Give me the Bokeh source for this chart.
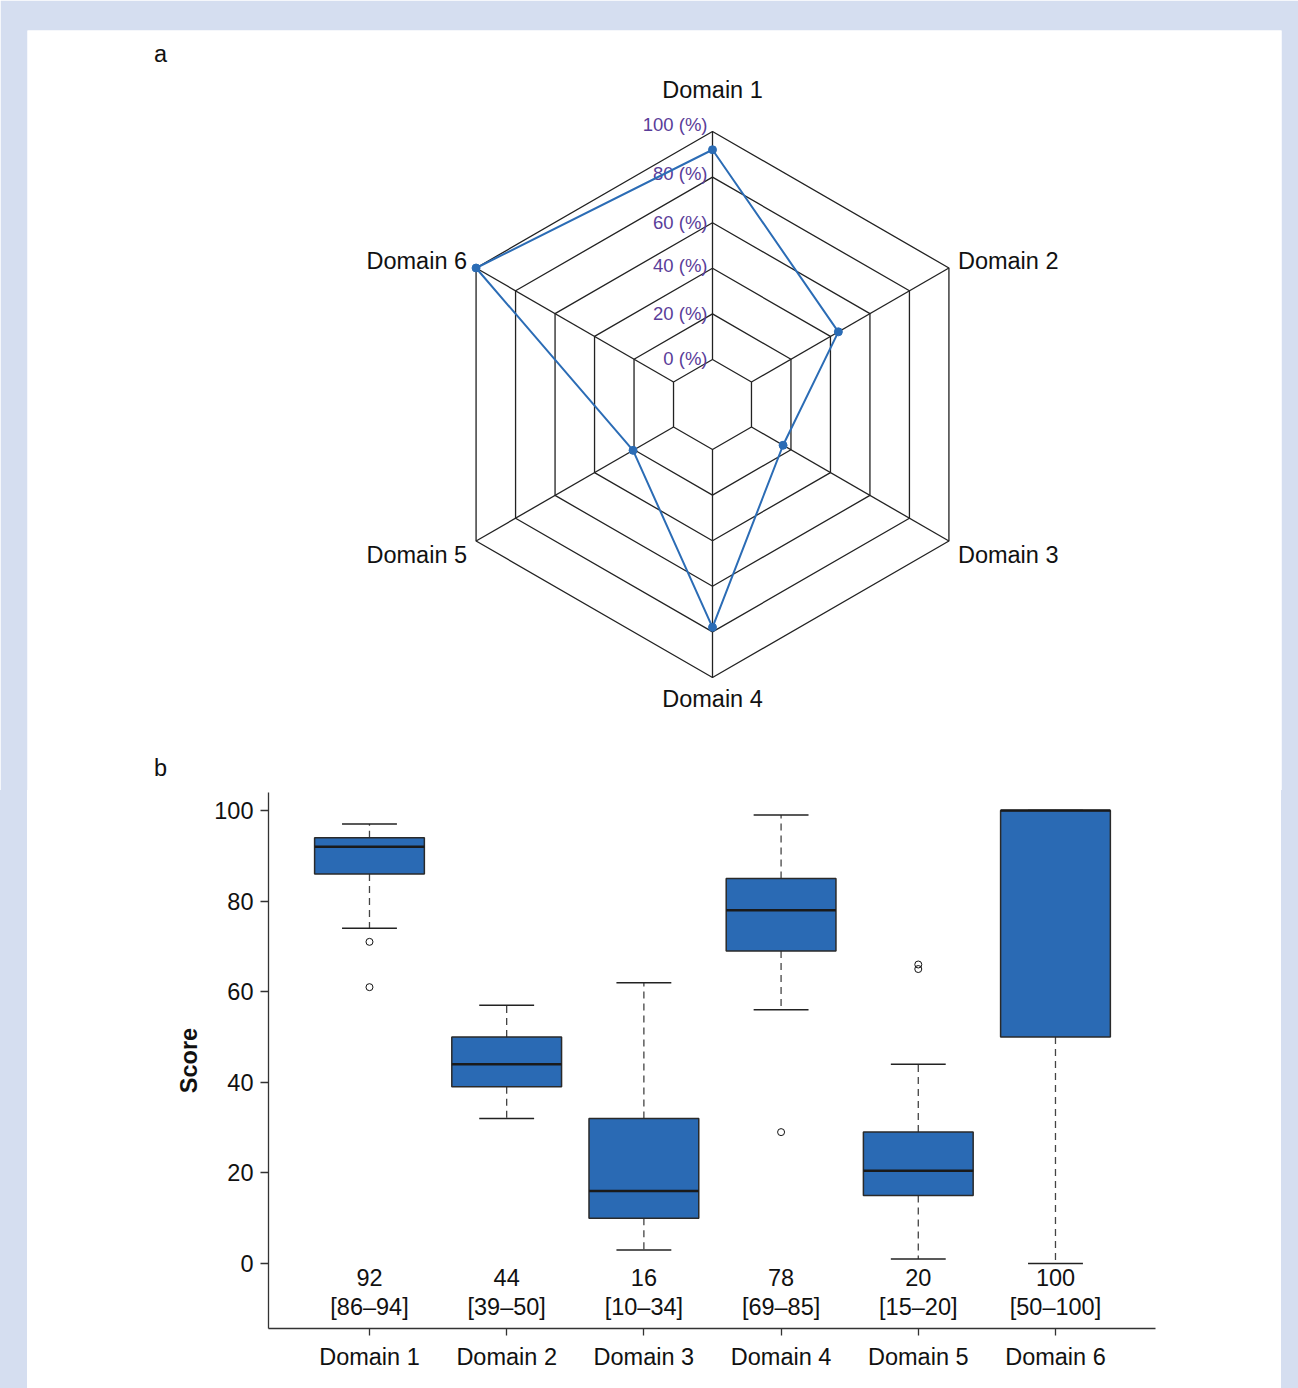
import math
from bokeh.plotting import figure
from bokeh.layouts import column, row
from bokeh.models import Range1d, ColumnDataSource, FixedTicker, Spacer
from bokeh.core.properties import value
from bokeh.embed import file_html
from bokeh.resources import INLINE

# ---------------- data ----------------
domains = ["Domain 1", "Domain 2", "Domain 3", "Domain 4", "Domain 5", "Domain 6"]
medians = [92, 44, 16, 78, 20.5, 100]
q1 = [86, 39, 10, 69, 15, 50]
q3 = [94, 50, 32, 85, 29, 100]
whisker_low = [74, 32, 3, 56, 1, 0]
whisker_high = [97, 57, 62, 99, 44, 100]
outlier_domain = [1, 1, 4, 5, 5]
outlier_value = [71, 61, 29, 66, 65]
median_labels = ["92", "44", "16", "78", "20", "100"]
iqr_labels = ["[86\u201394]", "[39\u201350]", "[10\u201334]", "[69\u201385]", "[15\u201320]", "[50\u2013100]"]
radar_ticks = [0, 20, 40, 60, 80, 100]
radar_tick_labels = ["0 (%)", "20 (%)", "40 (%)", "60 (%)", "80 (%)", "100 (%)"]

# ---------------- styles ----------------
BG = "#d5def0"
BLUE_LINE = "#2b6cb5"
BOX_FILL = "#2a6ab4"
PURPLE = "#5a3d99"
FONT = "Liberation Sans"
FS = "23.5px"

# ---------------- radar (panel a) ----------------
R0 = 45.0          # radius of the 0 % ring (screen px)
SCALE = 2.28       # px per percent
def rad(v):
    return R0 + SCALE * v

angles = [math.radians(90 - 60 * i) for i in range(6)]

pa = figure(width=1298, height=790, toolbar_location=None, output_backend="svg",
            x_range=Range1d(-685, 569), y_range=Range1d(-386, 374),
            min_border_left=27, min_border_right=17, min_border_top=30, min_border_bottom=0,
            border_fill_color=BG, background_fill_color="white", outline_line_color=None)
pa.axis.visible = False
pa.grid.visible = False

ring_xs, ring_ys = [], []
for t in radar_ticks:
    r = rad(t)
    ring_xs.append([r * math.cos(a) for a in angles + [angles[0]]])
    ring_ys.append([r * math.sin(a) for a in angles + [angles[0]]])
pa.multi_line(ring_xs, ring_ys, line_color="#222222", line_width=1.3)

rmax = rad(radar_ticks[-1])
pa.segment(x0=[R0 * math.cos(a) for a in angles], y0=[R0 * math.sin(a) for a in angles],
           x1=[rmax * math.cos(a) for a in angles], y1=[rmax * math.sin(a) for a in angles],
           line_color="#222222", line_width=1.3)

# tick labels (vertical nudges in px)
tick_nudge = [1, 0.5, 2.5, 0.3, 4, 7]
pa.text(x=[-5] * len(radar_ticks), y=[rad(t) + n for t, n in zip(radar_ticks, tick_nudge)],
        text=radar_tick_labels, text_align="right", text_baseline="middle", text_color=PURPLE,
        text_font=value(FONT), text_font_size="18.5px")

# data polygon
px = [rad(v) * math.cos(a) for v, a in zip(medians, angles)]
py = [rad(v) * math.sin(a) for v, a in zip(medians, angles)]
pa.line(px + [px[0]], py + [py[0]], line_color=BLUE_LINE, line_width=2)
pa.scatter(px, py, size=8, fill_color=BLUE_LINE, line_color=BLUE_LINE)

# axis labels
off_x = [0, 9, 9, 0, -9, -9]
off_y = [42, 7.5, -13.5, -21, -13.5, 7.5]
aligns = ["center", "left", "left", "center", "right", "right"]
lx = [rmax * math.cos(a) + dx for a, dx in zip(angles, off_x)]
ly = [rmax * math.sin(a) + dy for a, dy in zip(angles, off_y)]
pa.text(x=lx, y=ly, text=domains, text_align=aligns, text_baseline="middle",
        text_color="#111111", text_font=value(FONT), text_font_size=FS)

# panel letters
pa.text(x=[-552, -552], y=[351, -363], text=["a", "b"], text_align="center",
        text_baseline="middle", text_color="#111111", text_font=value(FONT), text_font_size=FS)

# ---------------- box plot (panel b) ----------------
xs = list(range(1, len(domains) + 1))
pb = figure(width=1254, height=598, toolbar_location=None, output_backend="svg",
            x_range=Range1d(0.264, 6.729), y_range=Range1d(-14.35, 103.97),
            min_border_left=241, min_border_right=126, min_border_top=2, min_border_bottom=60,
            border_fill_color="white", background_fill_color="white", outline_line_color=None)
pb.grid.visible = False

src = ColumnDataSource(dict(x=xs, q1=q1, q3=q3, med=medians, lo=whisker_low, hi=whisker_high,
                            xl=[x - 0.4 for x in xs], xr=[x + 0.4 for x in xs],
                            cl=[x - 0.2 for x in xs], cr=[x + 0.2 for x in xs]))

pb.segment(x0="x", y0="q3", x1="x", y1="hi", source=src, line_color="#444444",
           line_width=1.3, line_dash="7 5")
pb.segment(x0="x", y0="q1", x1="x", y1="lo", source=src, line_color="#444444",
           line_width=1.3, line_dash="7 5")
pb.segment(x0="cl", y0="hi", x1="cr", y1="hi", source=src, line_color="#222222", line_width=1.5)
pb.segment(x0="cl", y0="lo", x1="cr", y1="lo", source=src, line_color="#222222", line_width=1.5)
pb.vbar(x="x", width=0.8, top="q3", bottom="q1", source=src, fill_color=BOX_FILL,
        line_color="#2a2a2a", line_width=1.5)
pb.segment(x0="xl", y0="med", x1="xr", y1="med", source=src, line_color="#1a1a1a", line_width=2.5)
pb.scatter(outlier_domain, outlier_value, size=7, fill_color=None, line_color="#111111",
           line_width=1)

pb.text(x=xs, y=[-3] * len(xs), text=median_labels, text_align="center", text_baseline="middle",
        text_color="#111111", text_font=value(FONT), text_font_size=FS)
pb.text(x=xs, y=[-9.6] * len(xs), text=iqr_labels, text_align="center", text_baseline="middle",
        text_color="#111111", text_font=value(FONT), text_font_size=FS)

pb.xaxis.ticker = FixedTicker(ticks=xs)
pb.xaxis.major_label_overrides = {x: d for x, d in zip(xs, domains)}
pb.yaxis.ticker = FixedTicker(ticks=[0, 20, 40, 60, 80, 100])
pb.yaxis.axis_label = "Score"
pb.yaxis.axis_label_text_font = FONT
pb.yaxis.axis_label_text_font_size = FS
pb.yaxis.axis_label_text_font_style = "bold"
pb.yaxis.axis_label_text_color = "#111111"
pb.yaxis.axis_label_standoff = 9
for ax in (pb.xaxis, pb.yaxis):
    ax.major_label_text_font = FONT
    ax.major_label_text_font_size = FS
    ax.major_label_text_color = "#111111"
    ax.axis_line_color = "#333333"
    ax.axis_line_width = 1.3
    ax.major_tick_line_color = "#333333"
    ax.major_tick_line_width = 1.3
    ax.major_tick_in = 0
    ax.minor_tick_line_color = None
pb.yaxis.major_tick_out = 8
pb.yaxis.major_label_standoff = 7
pb.xaxis.major_tick_out = 7
pb.xaxis.major_label_standoff = 8

left_strip = Spacer(width=27, height=598, styles={"background-color": BG})
right_strip = Spacer(width=17, height=598, styles={"background-color": BG})

layout = column(pa, row(left_strip, pb, right_strip, spacing=0), spacing=0)

open("out.html", "w").write(file_html(layout, INLINE))
